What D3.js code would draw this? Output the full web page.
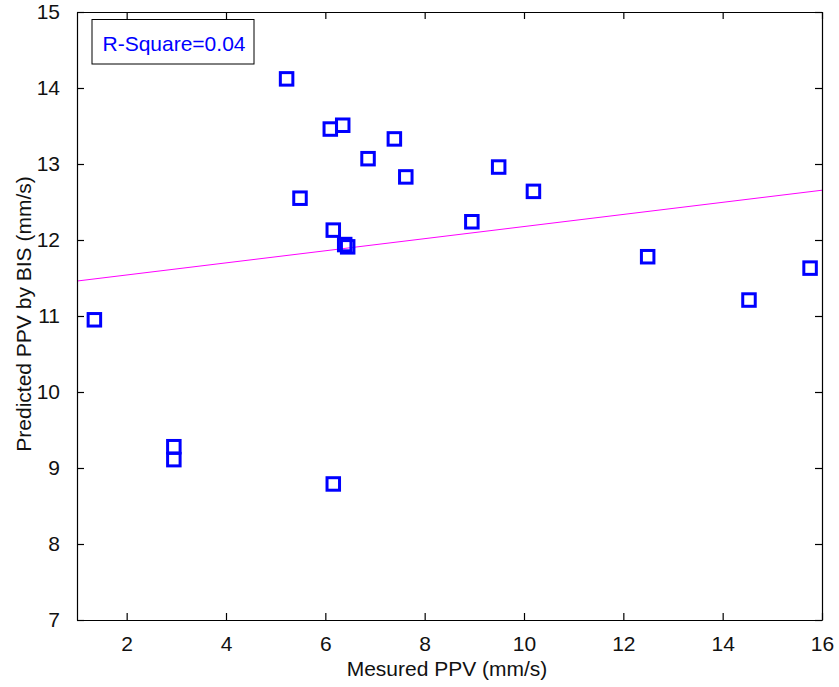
<!DOCTYPE html>
<html>
<head>
<meta charset="utf-8">
<script src="https://d3js.org/d3.v7.min.js"></script>
<style>
  body { margin: 0; background: #fff; }
  svg text { font-family: Arial, "Liberation Sans", Helvetica, sans-serif; }
</style>
</head>
<body>
<svg id="chart" width="839" height="687"></svg>
<script>
// Data
const measuredPPV = [1.35, 2.95, 2.95, 5.22, 5.49, 6.10, 6.35, 6.16, 6.39, 6.45, 6.16, 6.86, 7.39, 7.62, 8.95, 9.49, 10.19, 12.49, 14.53, 15.76];
const predictedPPV = [10.95, 9.28, 9.11, 14.12, 12.55, 13.46, 13.51, 12.13, 11.94, 11.91, 8.79, 13.07, 13.33, 12.83, 12.24, 12.96, 12.64, 11.78, 11.21, 11.63];
const fitX = [1, 16];
const fitY = [11.46, 12.655];
const xTicks = [2, 4, 6, 8, 10, 12, 14, 16];
const yTicks = [7, 8, 9, 10, 11, 12, 13, 14, 15];
const legendText = "R-Square=0.04";
const xLabel = "Mesured PPV (mm/s)";
const yLabel = "Predicted PPV by BIS (mm/s)";

(function () {
const svg = d3.select("#chart");
const pL = 77, pR = 822, pT = 12, pB = 620;

const x = d3.scaleLinear().domain([1, 16]).range([pL, pR]);
const y = d3.scaleLinear().domain([7, 15]).range([pB, pT]);

const tickLen = 7;
const fontSize = 21;

// Fit line
svg.append("path")
  .datum(fitX.map((v, i) => [v, fitY[i]]))
  .attr("fill", "none")
  .attr("stroke", "#ff00ff")
  .attr("stroke-width", 1)
  .attr("d", d3.line().x(d => x(d[0])).y(d => y(d[1])));

// Points
const ms = 12.5;
svg.append("g").selectAll("rect")
  .data(measuredPPV.map((v, i) => [v, predictedPPV[i]]))
  .join("rect")
  .attr("x", d => x(d[0]) - ms / 2)
  .attr("y", d => y(d[1]) - ms / 2)
  .attr("width", ms)
  .attr("height", ms)
  .attr("fill", "none")
  .attr("stroke", "#0000ff")
  .attr("stroke-width", 3);

// Axes (box with inward ticks)
const axB = svg.append("g").attr("transform", `translate(0,${pB})`)
  .call(d3.axisBottom(x).tickValues(xTicks).tickSizeInner(-tickLen).tickSizeOuter(0).tickPadding(16));
const axT = svg.append("g").attr("transform", `translate(0,${pT})`)
  .call(d3.axisTop(x).tickValues(xTicks).tickSizeInner(-tickLen).tickSizeOuter(0).tickFormat(""));
const axL = svg.append("g").attr("transform", `translate(${pL},0)`)
  .call(d3.axisLeft(y).tickValues(yTicks).tickSizeInner(-tickLen).tickSizeOuter(0).tickPadding(17));
const axR = svg.append("g").attr("transform", `translate(${pR},0)`)
  .call(d3.axisRight(y).tickValues(yTicks).tickSizeInner(-tickLen).tickSizeOuter(0).tickFormat(""));

[axB, axT, axL, axR].forEach(g => {
  g.select(".domain").attr("stroke", "#000").attr("stroke-width", 1.2);
  g.selectAll(".tick line").attr("stroke", "#000").attr("stroke-width", 1.2);
  g.selectAll(".tick text")
    .attr("fill", "#111")
    .style("font-size", fontSize + "px")
    .style("font-family", "Arial, 'Liberation Sans', sans-serif");
});

// Legend box
const lg = svg.append("g");
lg.append("rect")
  .attr("x", 92).attr("y", 19.5)
  .attr("width", 162).attr("height", 44.5)
  .attr("fill", "#fff")
  .attr("stroke", "#000")
  .attr("stroke-width", 1);
lg.append("text")
  .attr("x", 174).attr("y", 51)
  .attr("text-anchor", "middle")
  .attr("fill", "#0000ff")
  .style("font-size", fontSize + "px")
  .text(legendText);

// Axis labels
svg.append("text")
  .attr("x", 447)
  .attr("y", 676)
  .attr("text-anchor", "middle")
  .attr("fill", "#111")
  .style("font-size", fontSize + "px")
  .text(xLabel);

svg.append("text")
  .attr("transform", `translate(31,314) rotate(-90)`)
  .attr("text-anchor", "middle")
  .attr("fill", "#111")
  .style("font-size", fontSize + "px")
  .text(yLabel);
})();
</script>
</body>
</html>
